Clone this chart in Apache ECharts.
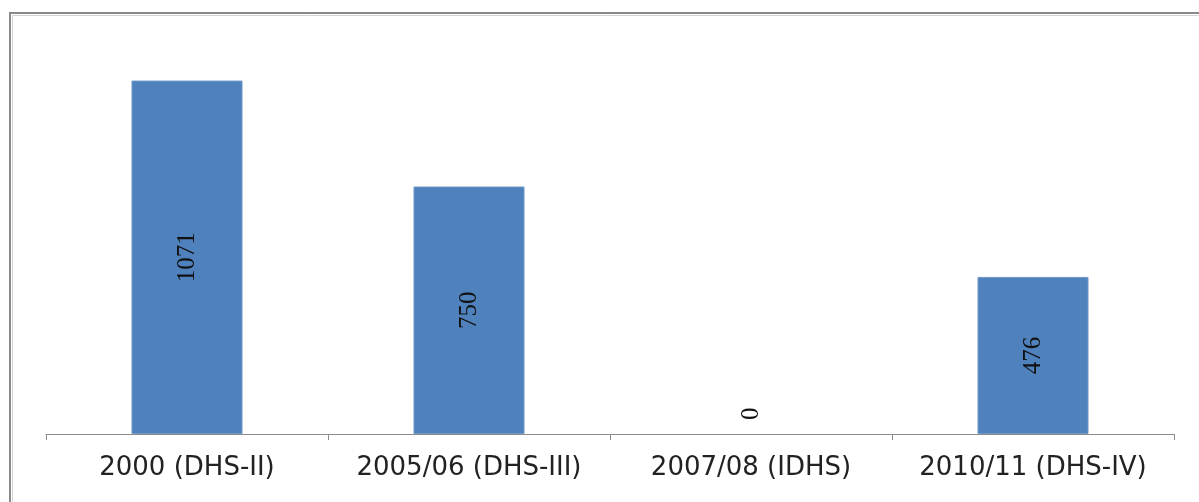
<!DOCTYPE html>
<html>
<head>
<meta charset="utf-8">
<script src="https://cdn.jsdelivr.net/npm/echarts@6/dist/echarts.min.js"></script>
<style>
html,body{margin:0;padding:0;background:#fff;}
#c{width:1199px;height:502px;}
</style>
</head>
<body>
<div id="c"></div>
<script>
const categories = ['2000 (DHS-II)', '2005/06 (DHS-III)', '2007/08 (IDHS)', '2010/11 (DHS-IV)'];
const values = [1071, 750, 0, 476];

const chart = echarts.init(document.getElementById('c'), null, {renderer: 'canvas'});
const seriesData = values.map(v => {
  if (v === 0) {
    return {value: v, itemStyle: {borderWidth: 0},
      label: {position: 'insideBottom', distance: 14, align: 'left', verticalAlign: 'middle'}};
  }
  return {value: v};
});
chart.setOption({
  animation: false,
  backgroundColor: '#ffffff',
  graphic: [
    {type: 'polyline', shape: {points: [[10, 520], [10, 13], [1220, 13]]}, style: {fill: 'none', stroke: '#8a8a8a', lineWidth: 2}, z: 10},
    {type: 'polyline', shape: {points: [[12.5, 520], [12.5, 15.5], [1220, 15.5]]}, style: {fill: 'none', stroke: '#d4d4d4', lineWidth: 1}, z: 10}
  ],
  grid: {left: 46, right: 25, top: 38, bottom: 68},
  xAxis: {
    type: 'category',
    data: categories,
    boundaryGap: true,
    axisLine: {lineStyle: {color: '#8c8c8c', width: 1}},
    axisTick: {show: true, length: 6, alignWithLabel: false, lineStyle: {color: '#8c8c8c'}},
    axisLabel: {fontFamily: 'DejaVu Sans', fontSize: 26, color: '#222', margin: 21, interval: 0}
  },
  yAxis: {
    type: 'value', min: 0, max: 1200, show: false,
    splitLine: {show: false}
  },
  series: [{
    type: 'bar',
    data: seriesData,
    barWidth: 111,
    itemStyle: {color: '#4f81bd', borderColor: '#6f97c8', borderWidth: 1},
    label: {
      show: true,
      position: 'inside',
      rotate: 90,
      fontFamily: 'Liberation Serif',
      fontSize: 25,
      color: '#111'
    }
  }]
});
</script>
</body>
</html>
